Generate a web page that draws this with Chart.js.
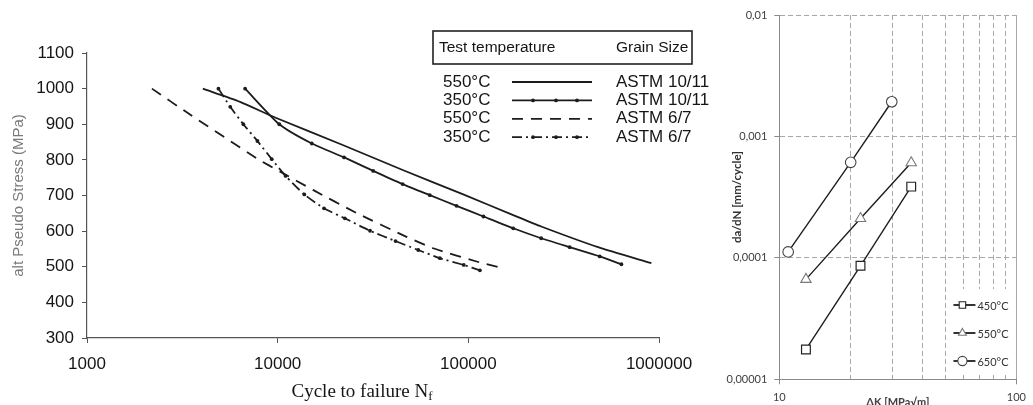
<!DOCTYPE html>
<html>
<head>
<meta charset="utf-8">
<title>Fatigue and crack growth</title>
<script src="https://cdn.jsdelivr.net/npm/chart.js@4.4.1/dist/chart.umd.min.js"></script>
<style>
  html, body { margin: 0; padding: 0; background: #fff; }
  #wrap { position: relative; width: 1033px; height: 405px; overflow: hidden; }
  #fatigueBox { position: absolute; left: 0; top: 0; width: 720px; height: 405px; }
  #crackBox { position: absolute; left: 720px; top: 0; width: 313px; height: 405px; }
</style>
</head>
<body>
<div id="wrap">
  <div id="fatigueBox"><canvas id="fatigueChart"></canvas></div>
  <div id="crackBox"><canvas id="crackChart"></canvas></div>
</div>
<script>
// ---- S-N curves (cycles to failure vs alternating pseudo stress) ----
const testTemps = ['550°C', '350°C', '550°C', '350°C'];
const grainSizes = ['ASTM 10/11', 'ASTM 10/11', 'ASTM 6/7', 'ASTM 6/7'];

const nFine550 = [4050, 6350, 9690, 22100, 45600, 94000, 172000, 241000, 479000, 912000];
const sFine550 = [1000, 963, 919, 841, 771, 703, 645, 613, 555, 510];

const nFine350 = [6750, 10200, 15100, 22300, 31700, 45200, 62800, 86700, 120000, 172000, 241000, 340000, 489000, 635000];
const sFine350 = [1000, 900, 846, 807, 769, 732, 701, 671, 641, 608, 580, 555, 529, 507];

const nCoarse550 = [2190, 3410, 7780, 10300, 15400, 25900, 47400, 65400, 115000, 149000];
const sCoarse550 = [1000, 930, 804, 767, 715, 651, 584, 552, 512, 497];

const nCoarse350 = [4890, 5640, 6610, 7830, 9310, 11000, 13800, 17500, 22500, 30500, 41500, 54600, 70900, 94600, 115000];
const sCoarse350 = [1000, 949, 900, 853, 802, 755, 703, 664, 636, 601, 572, 547, 524, 505, 490];

const cycleTicks = [1000, 10000, 100000, 1000000];

// ---- crack growth rate vs stress intensity range ----
const crackLabels = ['450°C', '550°C', '650°C'];
const dk450 = [12.95, 22.0, 36.0];
const rate450 = [1.76e-5, 8.6e-5, 3.86e-4];
const dk550 = [12.95, 22.0, 36.0];
const rate550 = [6.65e-5, 2.11e-4, 6.07e-4];
const dk650 = [10.9, 20.0, 29.8];
const rate650 = [1.12e-4, 6.12e-4, 1.93e-3];

const dkGrid = [10, 20, 30, 40, 50, 60, 70, 80, 90, 100];
const dkLabelled = [10, 100];
const rateTicks = [0.00001, 0.0001, 0.001, 0.01];
const rateTickLabels = ['0,00001', '0,0001', '0,001', '0,01'];

const toPoints = (xs, ys) => xs.map((x, i) => ({ x: x, y: ys[i] }));

const INK = '#1c1c1c';
const SANS = '"Liberation Sans", Arial, sans-serif';

// boxed legend: temperature | line sample | grain size
const snLegend = {
    id: 'snLegend',
    afterDraw(chart) {
        const ctx = chart.ctx;
        ctx.save();
        ctx.strokeStyle = '#222';
        ctx.lineWidth = 1.6;
        ctx.strokeRect(433, 31, 259, 33);
        ctx.fillStyle = '#151515';
        ctx.textBaseline = 'middle';
        ctx.font = '15.5px ' + SANS;
        ctx.fillText('Test temperature', 439, 48);
        ctx.fillText('Grain Size', 616, 48);
        ctx.font = '17px ' + SANS;
        chart.data.datasets.forEach((ds, i) => {
            const y = 82 + i * 18.4;
            ctx.fillStyle = '#151515';
            ctx.fillText(testTemps[i], 443, y);
            ctx.fillText(grainSizes[i], 616, y);
            ctx.beginPath();
            ctx.setLineDash(ds.borderDash || []);
            ctx.lineWidth = ds.borderWidth;
            ctx.strokeStyle = ds.borderColor;
            ctx.moveTo(512, y);
            ctx.lineTo(592, y);
            ctx.stroke();
            ctx.setLineDash([]);
            if (ds.pointRadius > 0) {
                ctx.fillStyle = ds.borderColor;
                [533, 556, 577].forEach(px => {
                    ctx.beginPath();
                    ctx.arc(px, y, ds.pointRadius, 0, Math.PI * 2);
                    ctx.fill();
                });
            }
        });
        ctx.restore();
    }
};

// x axis title with subscript f
const cycleTitle = {
    id: 'cycleTitle',
    afterDraw(chart) {
        const { ctx, chartArea } = chart;
        const main = 'Cycle to failure N';
        const sub = 'f';
        ctx.save();
        ctx.fillStyle = '#151515';
        ctx.textBaseline = 'alphabetic';
        ctx.font = '19px "Liberation Serif", "Times New Roman", serif';
        const w1 = ctx.measureText(main).width;
        ctx.font = '13px "Liberation Serif", "Times New Roman", serif';
        const w2 = ctx.measureText(sub).width;
        const x0 = (chartArea.left + chartArea.right) / 2 - 11 - (w1 + w2) / 2;
        const y0 = chartArea.bottom + 59;
        ctx.font = '19px "Liberation Serif", "Times New Roman", serif';
        ctx.fillText(main, x0, y0);
        ctx.font = '13px "Liberation Serif", "Times New Roman", serif';
        ctx.fillText(sub, x0 + w1, y0 + 3);
        ctx.restore();
    }
};

new Chart(document.getElementById('fatigueChart'), {
    type: 'line',
    data: {
        datasets: [
            {
                label: testTemps[0] + ' ' + grainSizes[0],
                data: toPoints(nFine550, sFine550),
                borderColor: INK, borderWidth: 1.8, pointRadius: 0, tension: 0.2
            },
            {
                label: testTemps[1] + ' ' + grainSizes[1],
                data: toPoints(nFine350, sFine350),
                borderColor: INK, borderWidth: 1.8, tension: 0.2,
                pointRadius: 1.9, pointBackgroundColor: INK, pointBorderWidth: 0
            },
            {
                label: testTemps[2] + ' ' + grainSizes[2],
                data: toPoints(nCoarse550, sCoarse550),
                borderColor: INK, borderWidth: 1.8, borderDash: [11, 8], pointRadius: 0, tension: 0.2
            },
            {
                label: testTemps[3] + ' ' + grainSizes[3],
                data: toPoints(nCoarse350, sCoarse350),
                borderColor: INK, borderWidth: 1.8, borderDash: [10, 4, 2, 4], tension: 0.2,
                pointRadius: 1.9, pointBackgroundColor: INK, pointBorderWidth: 0
            }
        ]
    },
    options: {
        responsive: true,
        maintainAspectRatio: false,
        animation: false,
        layout: { padding: { top: 53, right: 61, left: 0, bottom: 0 } },
        plugins: { legend: { display: false }, tooltip: { enabled: false } },
        scales: {
            x: {
                type: 'logarithmic',
                min: 1000,
                max: 1000000,
                afterBuildTicks: s => { s.ticks = cycleTicks.map(v => ({ value: v })); },
                afterFit: s => { s.height = 67; },
                grid: { drawOnChartArea: false, tickLength: 5, tickColor: '#555' },
                border: { color: '#555', width: 1.2 },
                ticks: {
                    autoSkip: false, maxRotation: 0, padding: 11, color: '#151515',
                    font: { family: SANS, size: 17 },
                    callback: v => String(v)
                }
            },
            y: {
                min: 300,
                max: 1100,
                afterFit: s => { s.width = 87; },
                grid: { drawOnChartArea: false, tickLength: 5, tickColor: '#555' },
                border: { color: '#555', width: 1.2 },
                ticks: {
                    stepSize: 50, padding: 8, color: '#151515',
                    font: { family: SANS, size: 17 },
                    callback: v => (v % 100 === 0 ? String(v) : '')
                },
                title: {
                    display: true,
                    text: 'alt Pseudo Stress (MPa)',
                    color: '#7a7a7a',
                    font: { family: SANS, size: 15 },
                    padding: { top: 10, bottom: 0 }
                }
            }
        }
    },
    plugins: [snLegend, cycleTitle]
});

// ---- crack growth chart ----
const CALIBRI = 'Lato, "Open Sans", sans-serif';

function drawMarker(ctx, style, x, y, r) {
    ctx.beginPath();
    if (style === 'rect') {
        const h = r * Math.SQRT1_2;
        ctx.rect(x - h, y - h, 2 * h, 2 * h);
    } else if (style === 'triangle') {
        for (let k = 0; k < 3; k++) {
            const a = k * 2 * Math.PI / 3;
            const px = x + Math.sin(a) * r;
            const py = y - Math.cos(a) * r;
            if (k === 0) ctx.moveTo(px, py); else ctx.lineTo(px, py);
        }
        ctx.closePath();
    } else {
        ctx.arc(x, y, r, 0, Math.PI * 2);
    }
    ctx.fill();
    ctx.stroke();
}

const rateLegend = {
    id: 'rateLegend',
    afterDraw(chart) {
        const { ctx, chartArea } = chart;
        const x0 = chartArea.right - 67;
        ctx.save();
        ctx.fillStyle = '#fff';
        ctx.fillRect(x0 - 2, 289, 66, 83);
        ctx.textBaseline = 'middle';
        ctx.font = '11px ' + CALIBRI;
        chart.data.datasets.forEach((ds, i) => {
            const y = 305 + i * 28;
            ctx.beginPath();
            ctx.strokeStyle = ds.borderColor;
            ctx.lineWidth = 1.8;
            ctx.moveTo(x0 + 4, y);
            ctx.lineTo(x0 + 26, y);
            ctx.stroke();
            ctx.fillStyle = '#fff';
            ctx.strokeStyle = ds.pointBorderColor;
            ctx.lineWidth = 1.1;
            drawMarker(ctx, ds.pointStyle, x0 + 13, y, 4.6);
            ctx.fillStyle = '#333';
            ctx.fillText(crackLabels[i], x0 + 28, y + 1);
        });
        ctx.restore();
    }
};

new Chart(document.getElementById('crackChart'), {
    type: 'line',
    data: {
        datasets: [
            {
                label: crackLabels[0],
                data: toPoints(dk450, rate450),
                borderColor: '#1e1e1e', borderWidth: 1.4,
                pointStyle: 'rect', pointRadius: 6.2,
                pointBackgroundColor: '#fff', pointBorderColor: '#222', pointBorderWidth: 1.2
            },
            {
                label: crackLabels[1],
                data: toPoints(dk550, rate550),
                borderColor: '#1e1e1e', borderWidth: 1.4,
                pointStyle: 'triangle', pointRadius: 6,
                pointBackgroundColor: '#fff', pointBorderColor: '#7a7a7a', pointBorderWidth: 1.1
            },
            {
                label: crackLabels[2],
                data: toPoints(dk650, rate650),
                borderColor: '#1e1e1e', borderWidth: 1.4,
                pointStyle: 'circle', pointRadius: 5.3,
                pointBackgroundColor: '#fff', pointBorderColor: '#444', pointBorderWidth: 1.1
            }
        ]
    },
    options: {
        responsive: true,
        maintainAspectRatio: false,
        animation: false,
        layout: { padding: { top: 15, right: 9.7, left: 0, bottom: 0 } },
        plugins: { legend: { display: false }, tooltip: { enabled: false } },
        scales: {
            x: {
                type: 'logarithmic',
                min: 10,
                max: 100,
                afterBuildTicks: s => { s.ticks = dkGrid.map(v => ({ value: v })); },
                afterFit: s => { s.height = 25.7; },
                grid: {
                    color: '#a8a8a8',
                    tickLength: 5,
                    tickColor: c => (c.tick && dkLabelled.includes(c.tick.value) ? '#8a8a8a' : 'rgba(0,0,0,0)')
                },
                border: {
                    color: '#8a8a8a',
                    dash: c => (c.tick && c.tick.value === 100 ? [] : [5, 3])
                },
                ticks: {
                    autoSkip: false, maxRotation: 0, padding: 7, color: '#404040',
                    font: { family: CALIBRI, size: 11 },
                    callback: v => (dkLabelled.includes(v) ? String(v) : '')
                },
                title: {
                    display: true,
                    text: 'ΔK [MPa√m]',
                    color: '#404040',
                    font: { family: CALIBRI, size: 11, weight: 'bold' },
                    padding: { top: 0, bottom: -4 }
                }
            },
            y: {
                type: 'logarithmic',
                min: 0.00001,
                max: 0.01,
                afterBuildTicks: s => { s.ticks = rateTicks.map(v => ({ value: v })); },
                afterFit: s => { s.width = 59.3; },
                grid: { color: '#a8a8a8', tickLength: 5, tickColor: '#8a8a8a' },
                border: { color: '#8a8a8a', dash: [5, 3] },
                ticks: {
                    padding: 7, color: '#404040',
                    font: { family: CALIBRI, size: 11 },
                    callback: v => rateTickLabels[rateTicks.indexOf(v)]
                },
                title: {
                    display: true,
                    text: 'da/dN [mm/cycle]',
                    color: '#303030',
                    font: { family: CALIBRI, size: 11.5, weight: 'bold' },
                    padding: { top: 10.6, bottom: 0 }
                }
            }
        }
    },
    plugins: [rateLegend]
});
</script>
</body>
</html>
